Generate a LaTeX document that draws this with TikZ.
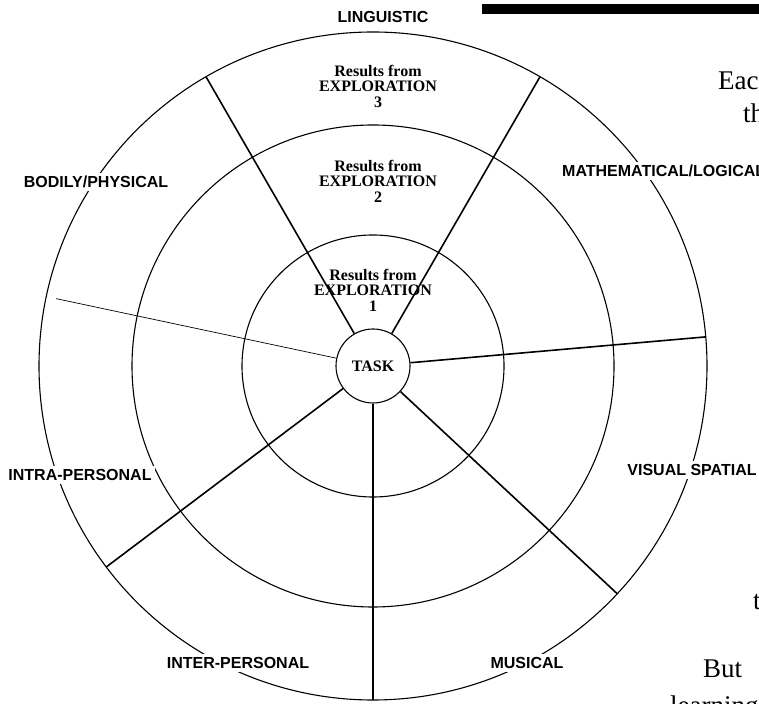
\documentclass[tikz,border=0pt]{standalone}
\usepackage{fontspec}
\setmainfont{Liberation Serif}
\newfontfamily\areasans{Liberation Sans}
\usetikzlibrary{calc}

\begin{document}
\begin{tikzpicture}[
  x=1pt,
  y=1pt,
  ring/.style={line width=1.1pt},
  spoke/.style={line width=1.6pt},
  thinspoke/.style={line width=0.7pt},
  area/.style={font=\areasans\bfseries\fontsize{16}{18}\selectfont, fill=white, inner sep=3pt},
  result/.style={font=\bfseries\fontsize{16}{15.5}\selectfont, align=center, inner sep=1pt},
  task/.style={circle, draw, fill=white, line width=1.1pt, minimum size=74pt, inner sep=0pt,
               font=\bfseries\fontsize{16}{18}\selectfont},
  pagetext/.style={font=\fontsize{27}{30}\selectfont, anchor=base west, inner sep=0pt},
]
\useasboundingbox (0,0) rectangle (759,703);
\coordinate (hub) at (373,337);

% three rings round the task
\draw[ring] (hub) circle[radius=334];
\draw[ring] (hub) circle[radius=241];
\draw[ring] (hub) circle[radius=131];
\node[task] (task) at (hub) {TASK};

% spokes out to the rim
\foreach \a in {60,120,5,217,270,317} {
  \coordinate (rim\a) at ($(hub)+(\a:334)$);
  \draw[spoke] (task.\a) -- (rim\a);
}
\coordinate (rim168) at ($(hub)+(168:324)$);
\draw[thinspoke] (task.168) -- (rim168);

% results in the top sector
\node[result] (res3) at (378,617) {Results from\\EXPLORATION\\3};
\node[result] (res2) at (378,522) {Results from\\EXPLORATION\\2};
\node[result] (res1) at (373,413) {Results from\\EXPLORATION\\1};

% intelligences round the rim
\node[area] (ling) at (383,686) {LINGUISTIC};
\node[area, anchor=west] (math) at (559,532) {MATHEMATICAL/LOGICAL};
\node[area] (body) at (96,521) {BODILY/PHYSICAL};
\node[area] (visual) at (692,233) {VISUAL SPATIAL};
\node[area] (intra) at (80,228) {INTRA-PERSONAL};
\node[area] (inter) at (238,40) {INTER-PERSONAL};
\node[area] (music) at (527,40) {MUSICAL};

% rest of the page
\fill (482,689) rectangle (759,699);
\node[pagetext] (eac) at (718,613) {Eac};
\node[pagetext] (th) at (743,580) {th};
\node[pagetext] (tt) at (753,93) {t};
\node[pagetext] (but) at (703,25) {But};
\node[pagetext] (learn) at (670,-11) {learning};

\end{tikzpicture}
\end{document}
